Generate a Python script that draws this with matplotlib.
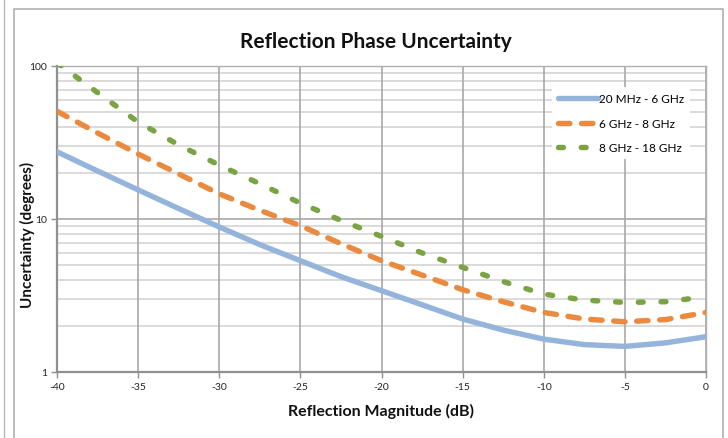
import matplotlib
matplotlib.use("Agg")
import matplotlib.pyplot as plt
from matplotlib.ticker import FixedLocator, NullFormatter
from matplotlib.lines import Line2D

magnitude_db = [-40, -37.5, -35, -32.5, -30, -27.5, -25, -22.5, -20, -17.5,
                -15, -12.5, -10, -7.5, -5, -2.5, 0]
band_20mhz_6ghz = [27.5, 20.6, 15.5, 11.7, 8.87, 6.8, 5.34, 4.2, 3.40, 2.75,
                   2.22, 1.88, 1.64, 1.51, 1.47, 1.55, 1.70]
band_6ghz_8ghz = [50.6, 36.5, 26.6, 19.7, 14.6, 11.4, 9.04, 6.9, 5.34, 4.3,
                  3.45, 2.88, 2.45, 2.22, 2.13, 2.20, 2.45]
band_8ghz_18ghz = [105, 67, 43, 30.5, 22.5, 17, 12.7, 9.8, 7.7, 6.0,
                   4.83, 3.9, 3.23, 2.95, 2.85, 2.88, 3.10]
series_labels = ["20 MHz - 6 GHz", "6 GHz - 8 GHz", "8 GHz - 18 GHz"]
x_ticks = [-40, -35, -30, -25, -20, -15, -10, -5, 0]
y_ticks = [1, 10, 100]

plt.rcParams['font.family'] = ['Lato', 'DejaVu Sans']

fig = plt.figure(figsize=(7.28, 4.39), dpi=100)
W, H = 728, 439

# chart border (Excel chart area) and neighbouring line
fig.add_artist(Line2D([4 / W, 4 / W], [0, 1], color='#b8b8b8', lw=1.0))
fig.add_artist(Line2D([14 / W, 14 / W, 723 / W, 723 / W],
                      [0, 1 - 10 / H, 1 - 10 / H, 0], color='#b0b0b0', lw=1.2))

ax = fig.add_axes([57 / W, 1 - 373 / H, (706 - 57) / W, (373 - 67) / H])
ax.set_yscale('log')
ax.set_xlim(-40, 0)
ax.set_ylim(1, 100)

# gridlines
minor_vals = [m * d for d in (1, 10) for m in range(2, 10)]
for v in minor_vals:
    ax.axhline(v, color='#d4d4d4', lw=1.2, zorder=1)
for v in y_ticks:
    ax.axhline(v, color='#a8a8a8', lw=1.2, zorder=1)
for v in x_ticks:
    ax.axvline(v, color='#a8a8a8', lw=1.2, zorder=1)

c_blue = '#95b4db'
c_orange = '#eb8a3e'
c_green = '#7aa342'

LW = 3.9
ax.plot(magnitude_db, band_20mhz_6ghz, color=c_blue, lw=LW,
        solid_capstyle='round', label=series_labels[0], zorder=3)
ax.plot(magnitude_db, band_6ghz_8ghz, color=c_orange, lw=LW,
        dashes=(2.1, 2.15), dash_capstyle='round', label=series_labels[1], zorder=3)
ax.plot(magnitude_db, band_8ghz_18ghz, color=c_green, lw=LW,
        dashes=(0.9, 3.3), dash_capstyle='round', label=series_labels[2], zorder=3)

ax.xaxis.set_major_locator(FixedLocator(x_ticks))
ax.set_xticklabels([str(t) for t in x_ticks])
ax.yaxis.set_major_locator(FixedLocator(y_ticks))
ax.set_yticklabels([str(t) for t in y_ticks])
ax.yaxis.set_minor_locator(FixedLocator([]))
ax.yaxis.set_minor_formatter(NullFormatter())
ax.tick_params(axis='both', which='major', labelsize=7.5, length=4, width=1.0,
               color='#909090', pad=3, labelcolor='#222222')

for s in ['top', 'right']:
    ax.spines[s].set_color('#b0b0b0')
    ax.spines[s].set_linewidth(1.0)
for s in ['left', 'bottom']:
    ax.spines[s].set_color('#909090')
    ax.spines[s].set_linewidth(1.6)

ax.set_xlabel('Reflection Magnitude (dB)', fontsize=11.5, fontweight='bold',
              color='#111111')
ax.xaxis.set_label_coords((381 - 57) / 649, -(404 - 373) / 306)
ax.set_ylabel('Uncertainty (degrees)', fontsize=11, fontweight='bold',
              color='#111111')
ax.yaxis.set_label_coords((35 - 57) / 649, (373 - 235) / 306)
fig.text(376 / W, 1 - 42 / H, 'Reflection Phase Uncertainty', fontsize=15,
         fontweight='bold', ha='center', va='center', color='#111111')

leg = ax.legend(loc='upper left', bbox_to_anchor=(0.7535, 0.95), fontsize=8.5,
                frameon=True, fancybox=False, framealpha=1, edgecolor='white',
                handlelength=3.4, handletextpad=0.05, labelspacing=1.15,
                borderpad=0.5)
leg.get_frame().set_linewidth(0)
leg.set_zorder(5)

fig.savefig('out.png', dpi=100)
